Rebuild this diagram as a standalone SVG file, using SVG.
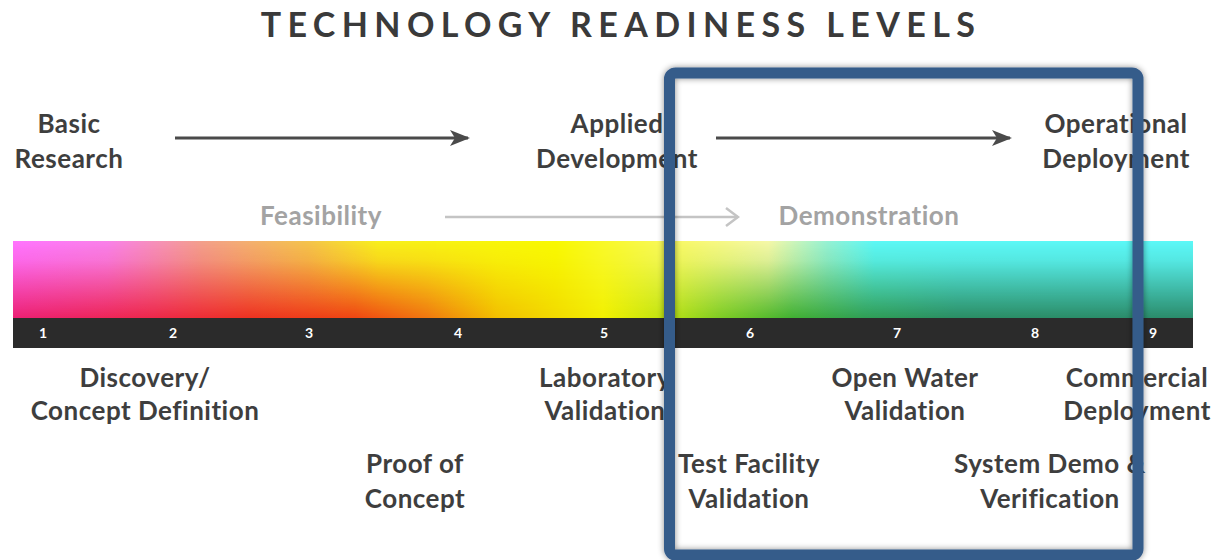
<svg xmlns="http://www.w3.org/2000/svg" width="1212" height="560" viewBox="0 0 1212 560">
  <style>
    text { font-family: Lato, "Open Sans", "Liberation Sans", sans-serif; font-weight: 700; }
    .title { font-size: 34px; letter-spacing: 6.4px; fill: #3a3a3a; }
    .stage { font-size: 26px; letter-spacing: 0.5px; fill: #3e3e3e; text-anchor: middle; }
    .phase { font-size: 26px; letter-spacing: 0.5px; fill: #a3a3a3; text-anchor: middle; }
    .lvl { font-size: 26px; letter-spacing: 0.5px; fill: #3e3e3e; text-anchor: middle; }
    .num { font-size: 14px; fill: #ffffff; text-anchor: middle; }
    .arrow { stroke: #4a4a4a; stroke-width: 3; fill: none; }
    .arrow-light { stroke: #c4c4c4; stroke-width: 2.5; fill: none; }
  </style>
  <defs>
    <marker id="head" viewBox="0 0 20 16" refX="18" refY="8" markerWidth="20" markerHeight="16" markerUnits="userSpaceOnUse" orient="auto">
      <path d="M0,0 L20,8 L0,16 L5,8 Z" fill="#4a4a4a"/>
    </marker>
    <marker id="head-light" viewBox="0 0 16 20" refX="14" refY="10" markerWidth="16" markerHeight="20" markerUnits="userSpaceOnUse" orient="auto">
      <path d="M2,1 L14,10 L2,19" fill="none" stroke="#c4c4c4" stroke-width="2.5"/>
    </marker>
    <!-- colour along the lower edge of the spectrum bar -->
    <linearGradient id="spec-bottom" gradientUnits="userSpaceOnUse" x1="13" y1="0" x2="1193" y2="0">
      <stop offset="0" stop-color="#ec1f72"/>
      <stop offset="0.12" stop-color="#ee2648"/>
      <stop offset="0.2" stop-color="#ee3020"/>
      <stop offset="0.29" stop-color="#f04412"/>
      <stop offset="0.35" stop-color="#f07510"/>
      <stop offset="0.41" stop-color="#f2bf00"/>
      <stop offset="0.5" stop-color="#f2f000"/>
      <stop offset="0.55" stop-color="#c0e410"/>
      <stop offset="0.6" stop-color="#7ccc22"/>
      <stop offset="0.66" stop-color="#3fb030"/>
      <stop offset="0.72" stop-color="#2f9e52"/>
      <stop offset="0.8" stop-color="#2a8c62"/>
      <stop offset="1" stop-color="#2a8a6a"/>
    </linearGradient>
    <!-- colour along the upper edge of the spectrum bar -->
    <linearGradient id="spec-top" gradientUnits="userSpaceOnUse" x1="13" y1="0" x2="1193" y2="0">
      <stop offset="0" stop-color="#ff74ff"/>
      <stop offset="0.08" stop-color="#f982ea"/>
      <stop offset="0.16" stop-color="#f3a08c"/>
      <stop offset="0.25" stop-color="#f4c44c"/>
      <stop offset="0.31" stop-color="#f8f01c"/>
      <stop offset="0.46" stop-color="#f8f800"/>
      <stop offset="0.57" stop-color="#f8f86c"/>
      <stop offset="0.64" stop-color="#f6f8a8"/>
      <stop offset="0.69" stop-color="#96f2d4"/>
      <stop offset="0.73" stop-color="#5cf8f6"/>
      <stop offset="1" stop-color="#5cf8f8"/>
    </linearGradient>
    <linearGradient id="fade" x1="0" y1="0" x2="0" y2="1">
      <stop offset="0" stop-color="#fff"/>
      <stop offset="0.25" stop-color="#fff" stop-opacity="0.85"/>
      <stop offset="1" stop-color="#fff" stop-opacity="0"/>
    </linearGradient>
    <mask id="top-mask" maskContentUnits="objectBoundingBox">
      <rect x="0" y="0" width="1" height="1" fill="url(#fade)"/>
    </mask>
    <filter id="shadow" x="-10%" y="-10%" width="120%" height="120%">
      <feDropShadow dx="0" dy="0" stdDeviation="3" flood-color="#000" flood-opacity="0.45"/>
    </filter>
  </defs>

  <!-- heading -->
  <g id="title">
    <text class="title" x="621" y="37" text-anchor="middle">TECHNOLOGY READINESS LEVELS</text>
  </g>

  <!-- spectrum bar with level scale -->
  <g id="scale">
    <rect x="13" y="241" width="1180" height="78" fill="url(#spec-bottom)"/>
    <rect x="13" y="241" width="1180" height="78" fill="url(#spec-top)" mask="url(#top-mask)"/>
    <rect x="13" y="318" width="1180" height="30" fill="#2b2b2b"/>
    <text class="num" x="43" y="338">1</text>
    <text class="num" x="173" y="338">2</text>
    <text class="num" x="309" y="338">3</text>
    <text class="num" x="458" y="338">4</text>
    <text class="num" x="604" y="338">5</text>
    <text class="num" x="750" y="338">6</text>
    <text class="num" x="897" y="338">7</text>
    <text class="num" x="1035" y="338">8</text>
    <text class="num" x="1153" y="338">9</text>
  </g>

  <!-- stages -->
  <g id="basic-research">
    <text class="stage" x="69" y="133">Basic</text>
    <text class="stage" x="69" y="168">Research</text>
  </g>
  <g id="applied-development">
    <text class="stage" x="617" y="133">Applied</text>
    <text class="stage" x="617" y="168">Development</text>
  </g>
  <g id="operational-deployment">
    <text class="stage" x="1116" y="133">Operational</text>
    <text class="stage" x="1116" y="168">Deployment</text>
  </g>
  <g id="feasibility">
    <text class="phase" x="321" y="225">Feasibility</text>
  </g>
  <g id="demonstration">
    <text class="phase" x="869" y="225">Demonstration</text>
  </g>

  <!-- level labels -->
  <g id="trl-1-2">
    <text class="lvl" x="145" y="387">Discovery/</text>
    <text class="lvl" x="145" y="420">Concept Definition</text>
  </g>
  <g id="trl-3-4">
    <text class="lvl" x="415" y="473">Proof of</text>
    <text class="lvl" x="415" y="508">Concept</text>
  </g>
  <g id="trl-5">
    <text class="lvl" x="605" y="387">Laboratory</text>
    <text class="lvl" x="605" y="420">Validation</text>
  </g>
  <g id="trl-6">
    <text class="lvl" x="749" y="473">Test Facility</text>
    <text class="lvl" x="749" y="508">Validation</text>
  </g>
  <g id="trl-7">
    <text class="lvl" x="905" y="387">Open Water</text>
    <text class="lvl" x="905" y="420">Validation</text>
  </g>
  <g id="trl-8">
    <text class="lvl" x="1050" y="473">System Demo &amp;</text>
    <text class="lvl" x="1050" y="508">Verification</text>
  </g>
  <g id="trl-9">
    <text class="lvl" x="1137" y="387">Commercial</text>
    <text class="lvl" x="1137" y="420">Deployment</text>
  </g>

  <!-- connectors -->
  <g id="connectors">
    <line class="arrow" x1="175" y1="138" x2="468" y2="138" marker-end="url(#head)"/>
    <line class="arrow" x1="716" y1="138" x2="1010" y2="138" marker-end="url(#head)"/>
    <line class="arrow-light" x1="445" y1="217" x2="738" y2="217" marker-end="url(#head-light)"/>
  </g>

  <!-- highlight frame around levels 6 to 8 -->
  <g id="highlight">
    <rect x="669.5" y="73" width="468.5" height="482" rx="6" fill="none" stroke="#355b8a" stroke-width="11" filter="url(#shadow)"/>
  </g>
</svg>
